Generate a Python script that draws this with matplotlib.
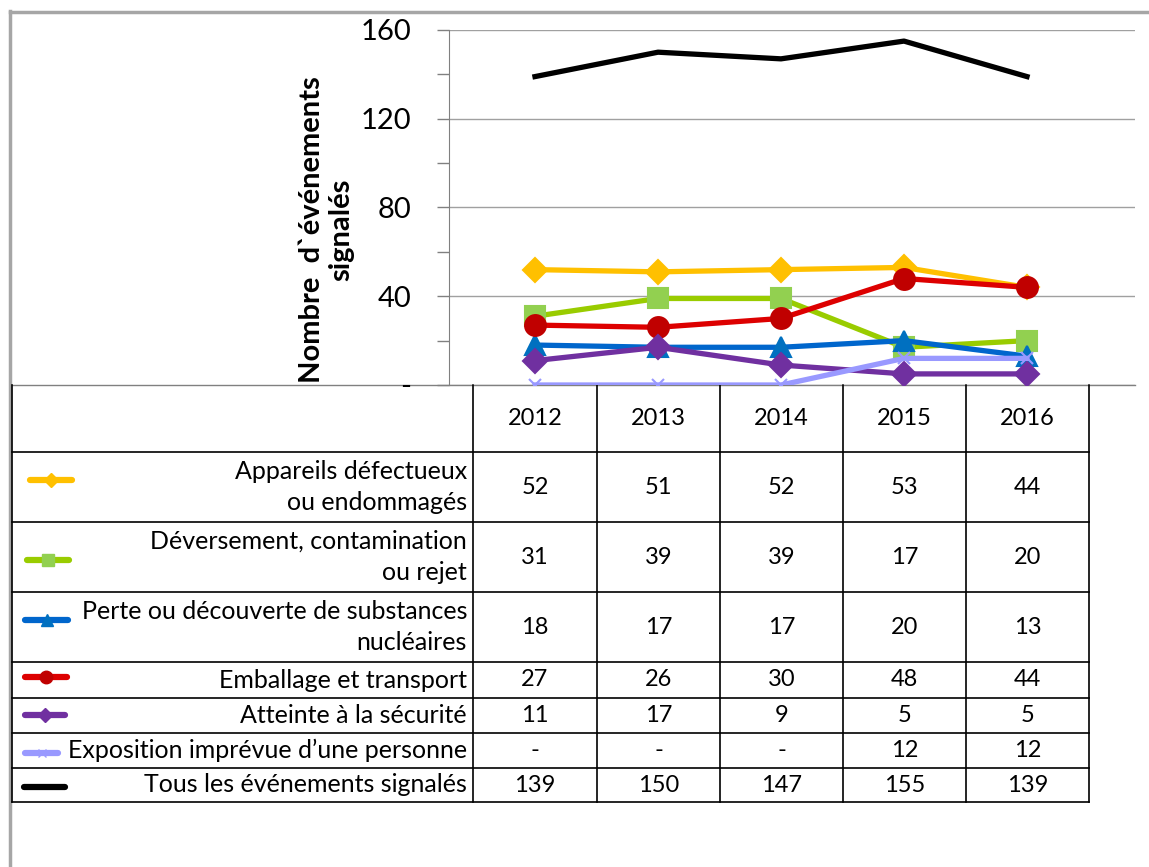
import matplotlib
matplotlib.use("Agg")
import matplotlib.pyplot as plt
import numpy as np

plt.rcParams['font.family'] = ['Lato', 'DejaVu Sans']

# data
years = ['2012', '2013', '2014', '2015', '2016']
appareils = [52, 51, 52, 53, 44]
deversement = [31, 39, 39, 17, 20]
perte = [18, 17, 17, 20, 13]
emballage = [27, 26, 30, 48, 44]
atteinte = [11, 17, 9, 5, 5]
exposition = [0, 0, 0, 12, 12]
tous = [139, 150, 147, 155, 139]

labels = ['Appareils défectueux\nou endommagés',
          'Déversement, contamination\nou rejet',
          'Perte ou découverte de substances\nnucléaires',
          'Emballage et transport',
          'Atteinte à la sécurité',
          'Exposition imprévue d\u2019une personne',
          'Tous les événements signalés']

series = [appareils, deversement, perte, emballage, atteinte, exposition, tous]
line_cols = ['#FFC000', '#99CC00', '#0066CC', '#DD0000', '#7030A0', '#9999FF', '#000000']
mk_cols = ['#FFC000', '#92D050', '#0070C0', '#C00000', '#7030A0', '#9999FF', '#000000']
markers = ['D', 's', '^', 'o', 'D', 'x', None]
msizes = [12, 14, 14, 15, 12, 9, 0]

W, H = 1149, 867
fig = plt.figure(figsize=(W / 100, H / 100), dpi=100)

# background axes in pixel coords for the table
bg = fig.add_axes([0, 0, 1, 1])
bg.set_xlim(0, W)
bg.set_ylim(H, 0)
bg.axis('off')

# frame of the screenshot
bg.plot([10, 10], [11, H], color='#A6A6A6', lw=2.5)
bg.plot([10, W], [12, 12], color='#A6A6A6', lw=2.5)

# chart area
x0, x1 = 449, 1135
ytop, ybot = 30, 385
ax = fig.add_axes([x0 / W, (H - ybot) / H, (x1 - x0) / W, (ybot - ytop) / H])
cat_x0, cat_dx = 535, 123
ax.set_xlim((x0 - cat_x0) / cat_dx, (x1 - cat_x0) / cat_dx)
ax.set_ylim(0, 160)
xs = np.arange(len(years))
for vals, lc, mc, m, ms in zip(series, line_cols, mk_cols, markers, msizes):
    if m is None:
        ax.plot(xs, vals, color=lc, lw=3.8, zorder=3)
    else:
        ax.plot(xs, vals, color=lc, lw=3.8, marker=m, markersize=ms,
                markerfacecolor=mc, markeredgecolor=mc, markeredgewidth=1.5, zorder=3)

ax.set_yticks([0, 40, 80, 120, 160])
ax.set_yticklabels(['-', '40', '80', '120', '160'], fontsize=21)
ax.set_yticks([20, 60, 100, 140], minor=True)
ax.tick_params(axis='y', which='both', length=9, width=1, color='#808080', pad=18)
ax.set_xticks([])
ax.grid(axis='y', color='#A0A0A0', lw=1)
ax.set_axisbelow(True)
for s in ['top', 'right', 'bottom']:
    ax.spines[s].set_visible(False)
ax.spines['left'].set_color('#808080')
ax.patch.set_alpha(0)

bg.text(327, 230, 'Nombre  d`événements\nsignalés', rotation=90, ha='center', va='center',
        fontsize=21, fontweight='bold', linespacing=1.15)

# table
col_edges = [473, 597, 720, 843, 966, 1089]
row_edges = [385, 452, 522, 592, 662, 698, 733, 768, 802]
bg.plot([12, x1], [385, 385], color='#808080', lw=1)
for y in row_edges[1:]:
    bg.plot([12, col_edges[-1]], [y, y], color='black', lw=1.2)
bg.plot([12, 12], [385, 802], color='black', lw=1.2)
for x in col_edges:
    bg.plot([x, x], [385, 802], color='black', lw=1.2)

for j, yr in enumerate(years):
    bg.text((col_edges[j] + col_edges[j + 1]) / 2, (row_edges[0] + row_edges[1]) / 2, yr,
            ha='center', va='center', fontsize=17)

icon_y = [480, 560, 620, 677, 715, 753, 787]
icon_x = [(30, 72), (27, 69), (25, 68), (25, 67), (25, 65), (25, 58), (24, 65)]
for i, (lab, vals) in enumerate(zip(labels, series)):
    r0, r1 = row_edges[i + 1], row_edges[i + 2]
    yc = (r0 + r1) / 2
    bg.text(467, yc, lab, ha='right', va='center', fontsize=18, linespacing=1.45)
    for j, v in enumerate(vals):
        bg.text((col_edges[j] + col_edges[j + 1]) / 2, yc, '-' if v == 0 else str(v),
                ha='center', va='center', fontsize=17)
    xa, xb = icon_x[i]
    bg.plot([xa, xb], [icon_y[i], icon_y[i]], color=line_cols[i], lw=4.5,
            solid_capstyle='round')
    if markers[i] is not None:
        bg.plot([(xa + xb) / 2], [icon_y[i]], marker=markers[i], markersize=msizes[i] * 0.6,
                color=mk_cols[i], markeredgecolor=mk_cols[i])

fig.savefig('out.png', dpi=100)
